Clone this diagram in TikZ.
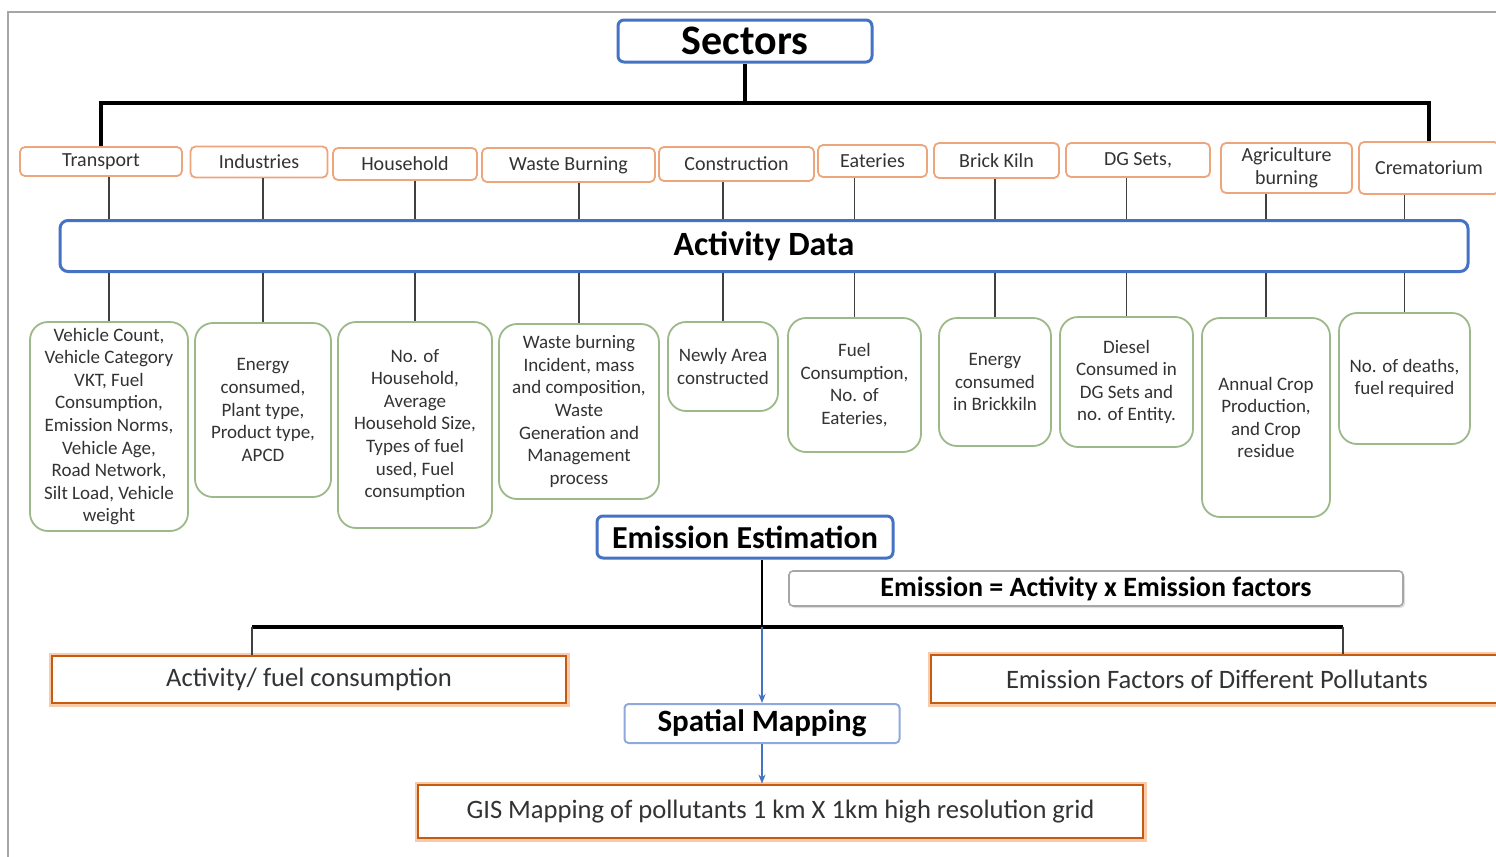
\documentclass[tikz,border=0pt]{standalone}
\usepackage{fontspec}
\setmainfont{Carlito}
\usetikzlibrary{arrows.meta,positioning,shadows}
\definecolor{hdblue}{HTML}{4472C4}
\definecolor{lightblue}{HTML}{8EA9DB}
\definecolor{secorange}{HTML}{EDA57C}
\definecolor{resorange}{HTML}{C55A11}
\definecolor{peach}{HTML}{F8CBAD}
\definecolor{datgreen}{HTML}{9DB98A}
\definecolor{txtgray}{HTML}{333333}
\newcommand{\linew}{0.75pt}
\newcommand{\busw}{1.6pt}

\begin{document}
\begin{tikzpicture}[x=0.5pt,y=-0.5pt,
    head/.style={draw=hdblue, line width=1.5pt, rounded corners=3pt, fill=white, inner sep=0pt},
    sector/.style={draw=secorange, line width=0.9pt, rounded corners=2.5pt, fill=white, inner sep=0pt,
      align=center, text=txtgray, font=\fontsize{10}{11.5}\selectfont},
    datum/.style={draw=datgreen, line width=0.9pt, rounded corners=9pt, fill=white, inner sep=0pt,
      align=center, text=txtgray, font=\fontsize{9.5}{11.3}\selectfont},
    result/.style={draw=resorange, line width=1.4pt, fill=white, inner sep=0pt, text=txtgray,
      font=\fontsize{13.3}{15}\selectfont, preaction={draw=peach, line width=3.5pt}},
    tree/.style={draw=black!75, line width=\linew},
    bus/.style={draw=black, line width=\busw},
    flow/.style={draw=hdblue, line width=0.8pt, -{Stealth[length=4.5pt,width=3.5pt]}}]
    \useasboundingbox (0,0) rectangle (1496,857);
    %\draw[help lines] (0,0) grid[step=100] (1496,857);
    \draw[gray!70, line width=0.8pt] (8,857) -- (8,12) -- (1496,12);

    % top of the tree
    \node[head, minimum width=127pt, minimum height=21pt, font=\bfseries\fontsize{21}{24}\selectfont] (sectors) at (745,41) {Sectors};
    \node[head, minimum width=704pt, minimum height=25.5pt, rounded corners=4pt, font=\bfseries\fontsize{17}{20}\selectfont] (act) at (764,246) {Activity Data};

    % sectors
    \node[sector, minimum width=81pt, minimum height=14.5pt] (trans) at (101,161.5) {Transport};
    \node[sector, minimum width=68.5pt, minimum height=15.5pt] (indus) at (259,162) {Industries};
    \node[sector, minimum width=72pt, minimum height=16pt] (house) at (405,164) {Household};
    \node[sector, minimum width=86.5pt, minimum height=17pt] (waste) at (568.5,165) {Waste Burning};
    \node[sector, minimum width=77.5pt, minimum height=17pt] (constr) at (736.5,164) {Construction};
    \node[sector, minimum width=54.5pt, minimum height=16pt] (eat) at (872.5,161) {Eateries};
    \node[sector, minimum width=62.5pt, minimum height=17.5pt] (brick) at (996.5,160.5) {Brick Kiln};
    \node[sector, minimum width=72pt, minimum height=17pt] (dg) at (1138,160) {DG Sets,};
    \node[sector, minimum width=65.5pt, minimum height=25pt] (agri) at (1286.5,168) {Agriculture\\burning};
    \node[sector, minimum width=70pt, minimum height=26pt] (crem) at (1429,168) {Crematorium};

    % activity data of each sector
    \node[datum, minimum width=79pt, minimum height=104.5pt] (dtrans) at (109,426.5)
      {Vehicle Count,\\Vehicle Category\\VKT, Fuel\\Consumption,\\Emission Norms,\\Vehicle Age,\\Road Network,\\Silt Load, Vehicle\\weight};
    \node[datum, minimum width=68pt, minimum height=87pt] (dindus) at (263,410)
      {Energy\\consumed,\\Plant type,\\Product type,\\APCD};
    \node[datum, minimum width=77pt, minimum height=103pt] (dhouse) at (415,425)
      {No. of\\Household,\\Average\\Household Size,\\Types of fuel\\used, Fuel\\consumption};
    \node[datum, minimum width=80pt, minimum height=87.5pt] (dwaste) at (579,411.5)
      {Waste burning\\Incident, mass\\and composition,\\Waste\\Generation and\\Management\\process};
    \node[datum, minimum width=55pt, minimum height=44.5pt] (dconstr) at (723,366.5)
      {Newly Area\\constructed};
    \node[datum, minimum width=66.5pt, minimum height=67pt] (deat) at (854.5,385)
      {Fuel\\Consumption,\\No. of\\Eateries,};
    \node[datum, minimum width=56pt, minimum height=64pt] (dbrick) at (995,382)
      {Energy\\consumed\\in Brickkiln};
    \node[datum, minimum width=66.5pt, minimum height=65pt] (ddg) at (1126.5,382)
      {Diesel\\Consumed in\\DG Sets and\\no. of Entity.};
    \node[datum, minimum width=64pt, minimum height=99.5pt] (dagri) at (1266,417.5)
      {Annual Crop\\Production,\\and Crop\\residue};
    \node[datum, minimum width=65.5pt, minimum height=65.5pt] (dcrem) at (1404.5,378.5)
      {No. of deaths,\\fuel required};

    % estimation and mapping
    \node[head, minimum width=148pt, minimum height=21pt, font=\bfseries\fontsize{16}{19}\selectfont] (ee) at (745,537) {Emission Estimation};
    \node[draw=black!35, line width=0.8pt, rounded corners=2pt, fill=white, inner sep=0pt,
      minimum width=307pt, minimum height=17.5pt, font=\bfseries\fontsize{14}{16}\selectfont,
      drop shadow={opacity=0.25, shadow xshift=1pt, shadow yshift=-1pt}] (formula) at (1096,588.5)
      {Emission = Activity x Emission factors};
    \node[result, minimum width=257pt, minimum height=23.5pt] (fuel) at (309,679.5) {Activity/ fuel consumption};
    \node[result, minimum width=286pt, minimum height=24pt] (ef) at (1217,679) {Emission Factors of Different Pollutants};
    \node[head, draw=lightblue, line width=1pt, rounded corners=2pt, minimum width=137.5pt, minimum height=19.5pt,
      font=\bfseries\fontsize{15.5}{18}\selectfont] (spatial) at (762,723.5) {Spatial Mapping};
    \node[result, minimum width=362.5pt, minimum height=26.5pt] (gis) at (780.5,811.5)
      {GIS Mapping of pollutants 1 km X 1km high resolution grid};

    % connectors
    \coordinate (tbus) at (745,103);
    \draw[bus] (sectors.south) -- (tbus);
    \draw[bus] (trans.north) |- (tbus) -| (crem.north);
    \foreach \d/\s in {dtrans/trans, dindus/indus, dhouse/house, dwaste/waste, dconstr/constr,
                       deat/eat, dbrick/brick, ddg/dg, dagri/agri, dcrem/crem}{
      \draw[tree] (\s.south -| \d.north) -- (act.north -| \d.north);
      \draw[tree] (act.south -| \d.north) -- (\d.north);
    }
    \coordinate (lbus) at (762,627);
    \coordinate (lbusL) at (252,627);
    \coordinate (lbusR) at (1343,627);
    \draw[bus, line width=1pt] (ee.south -| lbus) -- (lbus);
    \draw[bus, line width=1.8pt] (lbusL) -- (lbusR);
    \draw[tree] (lbusL) -- (lbusL |- fuel.north);
    \draw[tree] (lbusR) -- (lbusR |- ef.north);
    \draw[flow] (lbus) -- (spatial.north);
    \draw[flow] (spatial.south) -- (spatial.south |- gis.north);
\end{tikzpicture}
\end{document}
